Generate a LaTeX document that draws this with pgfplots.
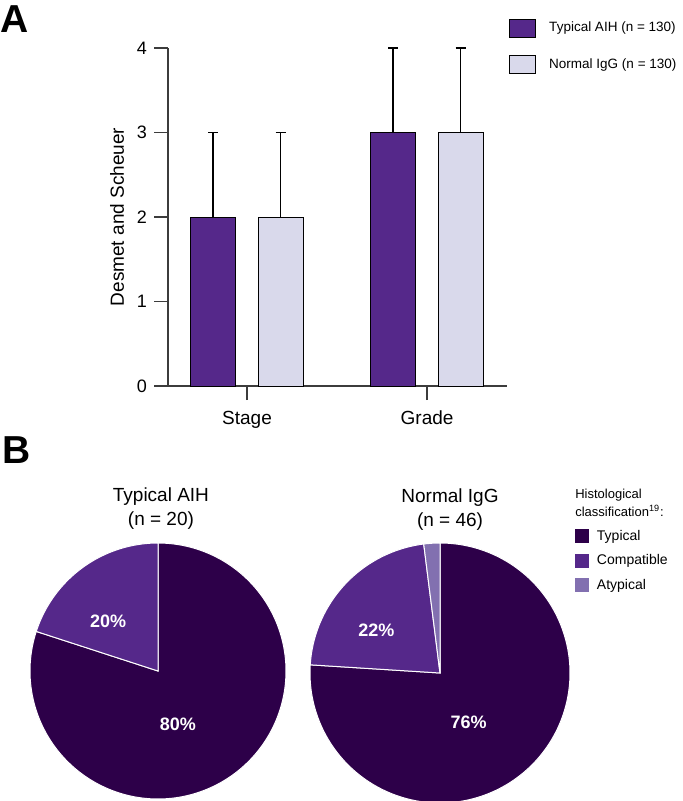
\documentclass[border=0pt]{standalone}
\usepackage{fontspec}
\setmainfont{Liberation Sans}
\usepackage{pgfplots}
\pgfplotsset{compat=1.18}
\definecolor{barpurple}{HTML}{55288A}
\definecolor{barlight}{HTML}{D9D9EB}
\definecolor{typ}{HTML}{2D0049}
\definecolor{comp}{HTML}{55288A}
\definecolor{atyp}{HTML}{8270B0}
\definecolor{axisgray}{HTML}{3C3C3C}
\pgfplotsset{
  barbox/.style={legend image code/.code={\draw[##1, line width=0.6pt] (0pt,-4.5pt) rectangle (13pt,4.5pt);}},
  piebox/.style={legend image code/.code={\fill[##1, draw=none] (0pt,-3.5pt) rectangle (7pt,3.5pt);}},
}
% pie data (percent)
\def\aihTyp{80}\def\aihComp{20}
\def\iggTyp{76}\def\iggComp{22}\def\iggAtyp{2}
\begin{document}
\begin{tikzpicture}
\useasboundingbox (0,0) rectangle (341pt,-400.5pt);
\pgfmathsetmacro\aA{90-3.6*\aihTyp}
\pgfmathsetmacro\aB{\aA-3.6*\aihComp}
\pgfmathsetmacro\bA{90-3.6*\iggTyp}
\pgfmathsetmacro\bB{\bA-3.6*\iggComp}
\pgfmathsetmacro\bC{\bB-3.6*\iggAtyp}
% panel labels
\node[anchor=base west, inner sep=0pt, font=\bfseries\fontsize{19.5}{20}\selectfont] at (0pt,-16.5pt) {A};
\node[anchor=base west, inner sep=0pt, font=\bfseries\fontsize{19.5}{20}\selectfont] at (1pt,-231.5pt) {B};
% ---------------- bar chart
\begin{axis}[
  at={(84pt,-193pt)}, anchor=south west,
  width=169.5pt, height=169pt, scale only axis,
  xmin=-0.439, xmax=1.444, ymin=0, ymax=4,
  axis x line=bottom, axis y line=left,
  axis line style={-, axisgray, line width=0.75pt},
  tick style={axisgray, line width=0.75pt},
  tick align=outside, major tick length=7pt,
  xtick={0,1}, xticklabels={Stage, Grade},
  ytick={0,1,2,3,4},
  x tick label style={font=\fontsize{9.5}{11}\selectfont, yshift=-2pt},
  y tick label style={font=\fontsize{9}{10}\selectfont},
  /pgf/number format/assume math mode=true,
  ylabel={Desmet and Scheuer},
  ylabel style={font=\fontsize{9.5}{11}\selectfont, at={(axis description cs:-0.150,0.5)}, anchor=center},
  clip=false,
  legend style={at={(axis description cs:1.006,1.086)}, anchor=north west, draw=none, fill=none,
    inner sep=0pt, outer sep=0pt, font=\fontsize{6.75}{8}\selectfont,
    row sep=8.5pt, column sep=6.5pt, nodes={inner sep=0pt}},
  legend cell align=left,
]
\addplot[ybar, bar width=22.5pt, bar shift=0pt, fill=barpurple, draw=black, line width=0.5pt, barbox,
  error bars/.cd, y dir=plus, y explicit,
  error bar style={black, line width=0.6pt},
  error mark options={black, line width=0.6pt, mark size=2.5pt, rotate=90}]
  coordinates {(-0.189,2) +- (0,1) (0.811,3) +- (0,1)};
\addlegendentry{Typical AIH (n = 130)}
\addplot[ybar, bar width=22.5pt, bar shift=0pt, fill=barlight, draw=black, line width=0.5pt, barbox,
  error bars/.cd, y dir=plus, y explicit,
  error bar style={black, line width=0.6pt},
  error mark options={black, line width=0.6pt, mark size=2.5pt, rotate=90}]
  coordinates {(0.186,2) +- (0,1) (1.186,3) +- (0,1)};
\addlegendentry{Normal IgG (n = 130)}
\end{axis}
% ---------------- pie 1
\begin{axis}[at={(79pt,-335.5pt)}, anchor=center, width=128pt, height=128pt, scale only axis,
  xmin=-1, xmax=1, ymin=-1, ymax=1, hide axis, clip=false]
\addplot[fill=typ, draw=white, line width=0.5pt, domain=\aA:90, samples=160] ({cos(x)},{sin(x)}) -- (axis cs:0,0) -- cycle;
\addplot[fill=comp, draw=white, line width=0.5pt, domain=\aB:\aA, samples=60] ({cos(x)},{sin(x)}) -- (axis cs:0,0) -- cycle;
\node[white, font=\bfseries\fontsize{9}{10}\selectfont] at (axis cs:0.156,-0.42) {80\%};
\node[white, font=\bfseries\fontsize{9}{10}\selectfont] at (axis cs:-0.39,0.39) {20\%};
\node[align=center, font=\fontsize{9.5}{12}\selectfont] at (axis cs:0.023,1.266) {Typical AIH\\(n = 20)};
\end{axis}
% ---------------- pie 2
\begin{axis}[at={(220pt,-336.5pt)}, anchor=center, width=130pt, height=130pt, scale only axis,
  xmin=-1, xmax=1, ymin=-1, ymax=1, hide axis, clip=false, piebox,
  legend style={at={(rel axis cs:1.019,1.052)}, anchor=north west, draw=none, fill=none,
    inner sep=0pt, outer sep=0pt, font=\fontsize{7}{8}\selectfont,
    row sep=5.25pt, column sep=4pt, nodes={inner sep=0pt}},
  legend cell align=left]
\addplot[fill=typ, draw=white, line width=0.5pt, domain=\bA:90, samples=160] ({cos(x)},{sin(x)}) -- (axis cs:0,0) -- cycle;
\addlegendentry{Typical}
\addplot[fill=comp, draw=white, line width=0.5pt, domain=\bB:\bA, samples=60] ({cos(x)},{sin(x)}) -- (axis cs:0,0) -- cycle;
\addlegendentry{Compatible}
\addplot[fill=atyp, draw=white, line width=0.5pt, domain=\bC:\bB, samples=10] ({cos(x)},{sin(x)}) -- (axis cs:0,0) -- cycle;
\addlegendentry{Atypical}
\node[white, font=\bfseries\fontsize{9}{10}\selectfont] at (axis cs:0.22,-0.38) {76\%};
\node[white, font=\bfseries\fontsize{9}{10}\selectfont] at (axis cs:-0.49,0.33) {22\%};
\node[align=center, font=\fontsize{9.5}{12}\selectfont] at (axis cs:0.077,1.26) {Normal IgG\\(n = 46)};
\node[align=left, anchor=west, inner sep=0pt, font=\fontsize{6.5}{9}\selectfont] at (axis cs:1.038,1.308) {Histological\\classification\textsuperscript{19}:};
\end{axis}
\end{tikzpicture}
\end{document}
